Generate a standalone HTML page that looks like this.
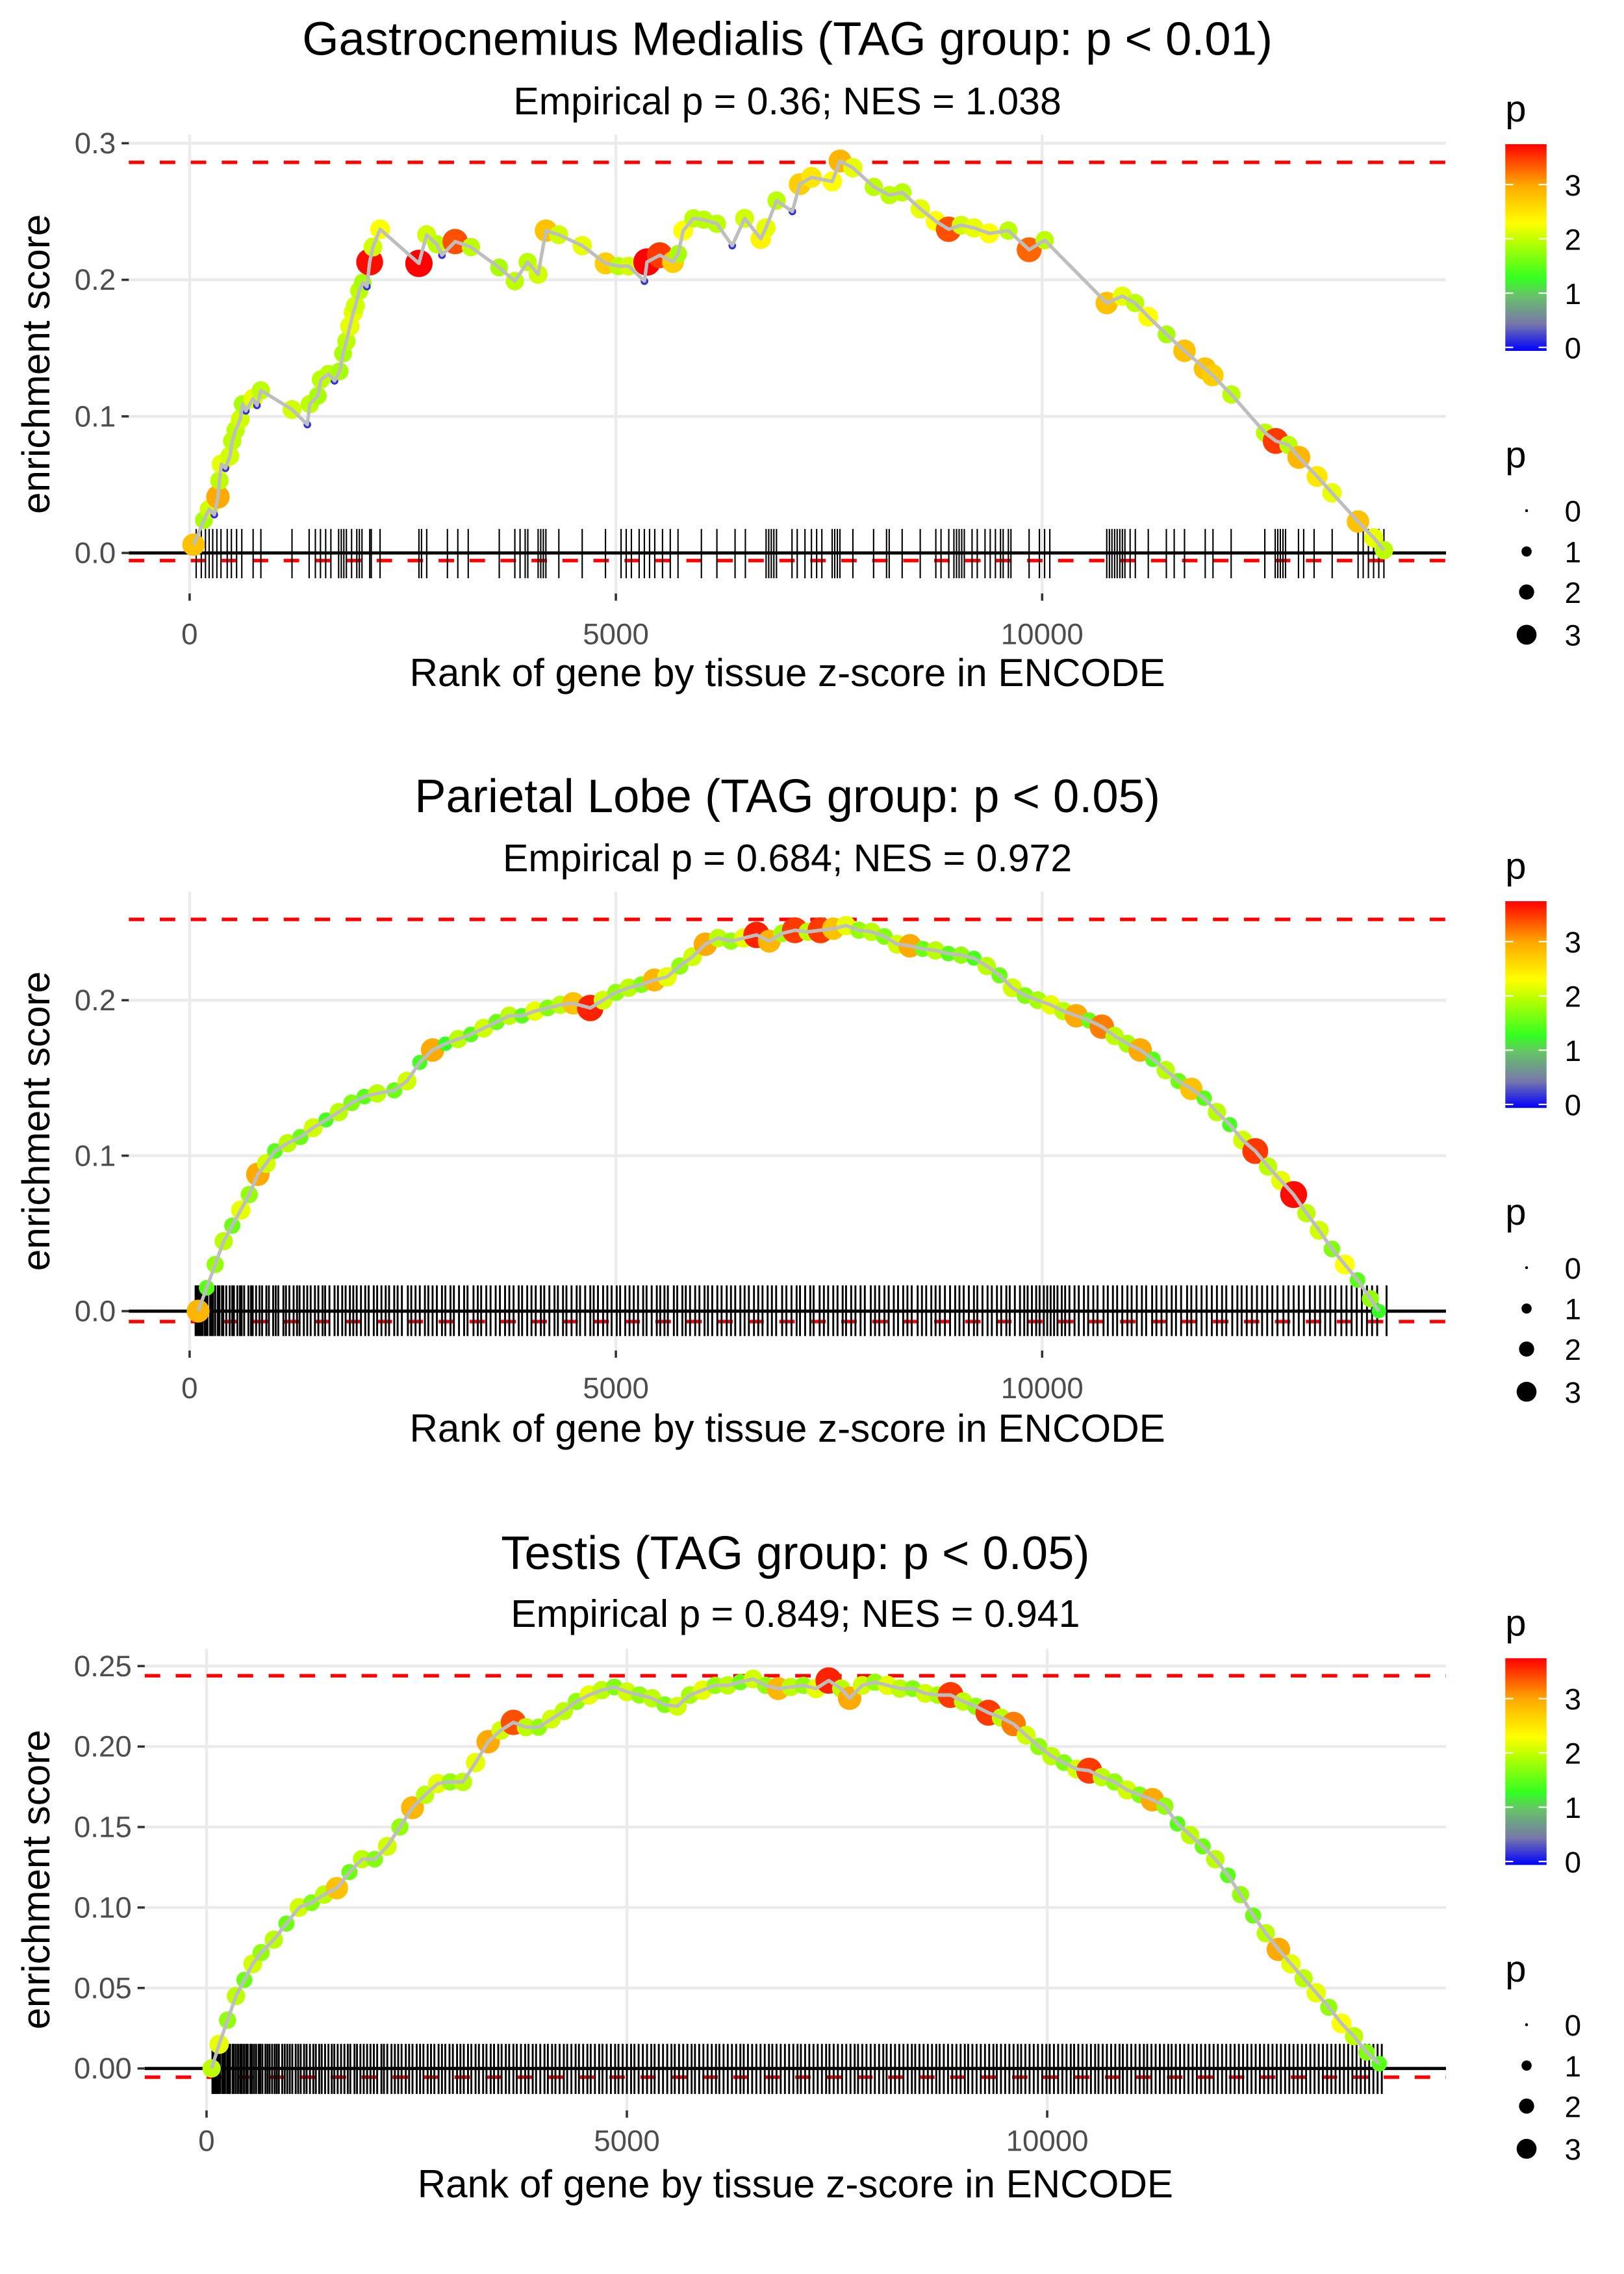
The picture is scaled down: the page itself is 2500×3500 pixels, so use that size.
<!DOCTYPE html>
<html><head><meta charset="utf-8"><style>
html,body{margin:0;padding:0;background:#fff;}
svg{display:block;font-family:"Liberation Sans",sans-serif;}
</style></head><body>
<svg id="chart" xmlns="http://www.w3.org/2000/svg" width="2500" height="3500" viewBox="0 0 1122 1571" preserveAspectRatio="none">
<defs>
<linearGradient id="pgrad" x1="0" y1="1" x2="0" y2="0">
<stop offset="0" stop-color="#0000ff"/><stop offset="0.13" stop-color="#7777aa"/><stop offset="0.27" stop-color="#66c466"/><stop offset="0.35" stop-color="#33ff22"/><stop offset="0.53" stop-color="#bbff00"/><stop offset="0.62" stop-color="#ffff00"/><stop offset="0.8" stop-color="#ffaa00"/><stop offset="1" stop-color="#ff0000"/>
</linearGradient>
</defs>
</svg>
<script>
// ---- Panel 1 data: Gastrocnemius Medialis ----
const rank1 = [46,168,229,290,332,350,372,420,472,500,540,594,622,660,745,790,836,1202,1381,1410,1504,1540,1630,1700,1760,1800,1840,1880,1920,1945,1990,2031,2080,2112,2150,2235,2690,2780,2900,2960,3115,3300,3630,3815,3965,4088,4180,4330,4605,4880,5030,5150,5335,5365,5515,5670,5730,5790,5910,6030,6185,6365,6510,6700,6760,6885,7070,7157,7294,7538,7630,7780,8026,8210,8360,8571,8750,8903,9050,9200,9380,9604,9848,10030,10758,10940,11090,11244,11460,11670,11910,12000,12220,12615,12740,12890,13011,13225,13400,13705,13890,14010];
const es1 = [.006,.024,.032,.028,.041,.053,.065,.062,.071,.082,.090,.098,.109,.104,.113,.108,.119,.105,.094,.109,.115,.127,.131,.126,.133,.146,.155,.166,.176,.181,.192,.198,.195,.213,.224,.237,.212,.233,.226,.218,.228,.224,.209,.199,.213,.204,.236,.233,.225,.212,.21,.21,.199,.213,.218,.213,.219,.236,.245,.244,.241,.225,.245,.23,.238,.258,.25,.27,.275,.272,.287,.282,.268,.262,.264,.252,.243,.237,.240,.238,.234,.236,.222,.229,.183,.188,.183,.173,.16,.148,.135,.13,.116,.088,.082,.079,.07,.056,.044,.023,.011,.002];
const p1 = [2.8,1.9,2.1,0.2,3.0,2.0,2.2,0.2,2.1,2.0,2.0,2.1,1.9,0.2,2.2,0.2,2.0,2.1,0.2,2.0,1.9,2.0,2.0,0.2,1.9,1.9,2.0,2.2,2.2,2.1,2.0,1.9,0.2,3.7,2.1,2.3,3.8,2.1,2.0,0.2,3.4,2.0,1.9,2.0,2.0,2.1,2.8,2.1,2.2,2.7,2.0,2.1,0.2,3.8,3.5,2.7,1.9,2.3,2.0,2.0,2.0,0.2,2.1,2.4,2.2,2.0,0.2,2.7,2.5,2.3,2.9,2.2,2.0,2.0,2.0,2.2,2.3,3.4,2.1,2.2,2.3,2.0,3.3,2.0,2.8,2.2,2.0,2.3,1.9,2.8,2.8,2.7,2.0,2.0,3.5,2.0,2.9,2.5,2.2,2.8,2.2,2.0];
const rug1 = [77,137,186,229,271,320,368,441,490,551,612,745,836,1201,1402,1475,1535,1596,1657,1748,1779,1809,1839,1900,1961,1991,2022,2113,2131,2234,2690,2720,2781,3024,3146,3268,3632,3815,3876,3936,3967,4088,4119,4149,4179,4331,4605,4878,5061,5121,5182,5273,5334,5395,5456,5547,5638,5729,6003,6185,6398,6519,6762,6793,6823,6853,6884,7066,7127,7218,7294,7355,7416,7537,7567,7598,7628,7780,8023,8175,8206,8358,8570,8753,8814,8905,8965,8996,9026,9057,9087,9178,9239,9330,9391,9452,9512,9543,9604,9634,9847,9968,10029,10090,10758,10789,10819,10850,10880,10911,10941,10971,11032,11093,11245,11457,11549,11670,11913,12004,12217,12612,12734,12764,12794,12825,12855,13007,13068,13190,13402,13706,13766,13827,13888,13949,14009];

// ---- Panel 2 data: Parietal Lobe ----
const rank2 = [100,200,300,400,500,600,700,800,900,1000,1150,1300,1450,1600,1750,1900,2050,2200,2400,2550,2700,2850,3000,3150,3300,3450,3600,3750,3900,4050,4200,4350,4500,4700,4850,5000,5150,5300,5450,5600,5750,5900,6050,6200,6350,6500,6650,6800,6950,7100,7250,7400,7550,7700,7850,8000,8150,8300,8450,8600,8750,8900,9050,9200,9350,9500,9650,9800,9950,10100,10250,10400,10550,10700,10850,11000,11150,11300,11450,11600,11750,11900,12050,12200,12350,12500,12650,12800,12950,13100,13250,13400,13550,13700,13850,13950];
const es2 = [.0,.015,.03,.045,.055,.065,.075,.088,.095,.103,.108,.112,.118,.123,.128,.134,.138,.14,.142,.148,.16,.168,.172,.175,.178,.182,.186,.19,.19,.193,.195,.197,.198,.195,.2,.205,.208,.21,.213,.215,.222,.228,.236,.24,.238,.24,.242,.238,.243,.245,.244,.245,.246,.248,.245,.244,.241,.236,.235,.233,.232,.23,.229,.227,.222,.216,.208,.203,.2,.197,.193,.19,.187,.183,.177,.172,.168,.162,.155,.148,.143,.137,.128,.12,.11,.103,.093,.084,.075,.063,.052,.04,.03,.02,.008,.0];
const p2 = [2.9,1.5,1.8,2.0,1.6,2.2,1.8,3.0,2.1,1.5,2.0,1.6,2.1,1.4,2.0,1.7,1.5,2.0,1.6,2.1,1.4,3.0,1.3,2.0,1.5,2.1,1.6,2.0,1.5,2.2,1.7,2.0,2.8,3.6,2.1,1.8,2.0,1.7,2.9,2.2,1.8,2.1,3.0,2.0,1.8,2.2,3.6,2.9,1.9,3.5,2.0,3.5,2.8,2.2,1.8,2.0,1.7,2.1,3.0,1.6,2.0,1.5,1.8,1.4,2.0,1.6,2.1,1.7,1.9,2.2,2.0,3.0,1.6,3.2,2.0,1.9,3.0,1.5,2.0,1.6,2.8,1.5,2.0,1.4,2.1,3.5,2.0,2.2,3.7,2.0,2.1,1.7,2.3,1.5,1.8,1.3];
const rug2 = [70,90,110,130,150,175,190,210,240,260,275,300,330,350,380,395,430,470,500,520,560,590,610,640,690,720,740,780,820,850,900,930,980,1010,1040,1100,1130,1170,1220,1260,1290,1340,1380,1420,1470,1510,1560,1590,1640,1700,1740,1790,1830,1880,1920,1960,2010,2060,2100,2160,2200,2250,2300,2340,2400,2440,2490,2560,2600,2650,2700,2760,2800,2850,2900,2960,3000,3060,3100,3160,3220,3260,3330,3380,3420,3480,3530,3590,3640,3700,3750,3800,3860,3900,3960,4010,4060,4120,4160,4220,4280,4320,4380,4420,4480,4540,4580,4640,4700,4740,4790,4850,4900,4950,5010,5050,5110,5160,5210,5260,5320,5360,5420,5480,5520,5570,5610,5680,5720,5780,5820,5870,5930,5980,6040,6080,6130,6190,6240,6300,6350,6400,6460,6510,6560,6620,6670,6720,6780,6830,6880,6950,7000,7060,7120,7160,7220,7280,7320,7390,7440,7490,7550,7600,7660,7700,7760,7810,7870,7920,7990,8040,8090,8150,8200,8260,8310,8370,8420,8470,8540,8590,8640,8700,8750,8800,8860,8920,8980,9030,9080,9140,9200,9240,9300,9360,9410,9470,9520,9580,9620,9680,9740,9790,9830,9880,9930,9970,10020,10060,10100,10140,10180,10230,10270,10320,10380,10430,10490,10540,10600,10650,10720,10770,10830,10880,10940,11000,11050,11110,11170,11220,11290,11340,11400,11460,11520,11570,11630,11700,11750,11810,11870,11930,11990,12050,12110,12160,12230,12290,12340,12400,12460,12520,12580,12640,12700,12760,12830,12890,12950,13010,13070,13140,13200,13260,13320,13380,13440,13510,13570,13630,13690,13750,13810,13870,13930,14040];

// ---- Panel 3 data: Testis ----
const rank3 = [60,150,250,350,450,550,650,800,950,1100,1250,1400,1550,1700,1850,2000,2150,2300,2450,2600,2750,2900,3050,3200,3350,3500,3650,3800,3950,4100,4250,4400,4550,4700,4850,5000,5150,5300,5450,5600,5750,5900,6050,6200,6350,6500,6650,6800,6950,7100,7250,7400,7550,7650,7800,7950,8100,8250,8400,8550,8700,8850,9000,9150,9300,9450,9600,9750,9900,10050,10200,10350,10500,10650,10800,10950,11100,11250,11400,11550,11700,11850,12000,12150,12300,12450,12600,12750,12900,13050,13200,13350,13500,13650,13800,13950];
const es3 = [.0,.015,.03,.045,.055,.065,.072,.08,.09,.1,.103,.108,.112,.122,.13,.13,.138,.15,.162,.17,.177,.178,.178,.19,.203,.21,.215,.212,.212,.217,.222,.228,.232,.235,.237,.234,.232,.23,.226,.225,.232,.235,.238,.238,.24,.242,.238,.236,.237,.238,.236,.241,.236,.23,.238,.24,.238,.236,.236,.233,.232,.232,.228,.225,.221,.218,.214,.207,.2,.194,.19,.186,.185,.181,.178,.173,.17,.167,.163,.152,.145,.138,.13,.12,.108,.095,.084,.074,.065,.056,.047,.038,.028,.02,.01,.003];
const p3 = [2.0,2.2,1.8,2.0,1.6,2.1,1.8,2.0,1.6,2.1,1.7,2.0,2.8,1.6,2.0,1.7,2.1,1.8,2.9,2.0,2.2,1.8,2.0,2.2,3.0,2.1,3.4,2.0,1.8,2.1,2.0,1.8,2.2,2.0,1.7,2.1,1.8,2.0,1.7,2.1,1.9,2.2,1.8,2.0,1.6,2.1,1.8,2.9,2.0,1.8,2.2,3.6,2.0,3.0,2.1,1.8,2.2,2.0,1.7,2.1,1.9,3.5,2.0,1.8,3.5,2.0,3.2,2.1,1.8,2.0,1.7,2.1,3.5,2.0,1.8,2.1,1.7,3.0,1.8,1.5,2.0,1.6,2.0,1.5,1.8,1.6,2.0,3.0,2.2,2.0,2.2,1.8,2.3,2.0,1.7,1.5];
const rug3 = [70,85,105,125,140,160,185,200,220,245,265,280,310,325,350,375,400,420,445,470,490,520,540,565,590,620,640,665,700,725,750,780,810,835,860,900,930,960,990,1020,1060,1090,1120,1160,1190,1230,1270,1300,1340,1370,1410,1450,1490,1520,1560,1600,1640,1680,1710,1760,1790,1830,1870,1910,1950,1990,2030,2080,2110,2150,2200,2240,2280,2320,2370,2410,2450,2500,2540,2580,2630,2670,2710,2760,2800,2840,2890,2930,2980,3020,3060,3110,3150,3200,3240,3290,3330,3380,3420,3470,3510,3560,3600,3650,3690,3740,3790,3830,3880,3920,3970,4020,4060,4110,4150,4200,4250,4290,4340,4390,4430,4480,4530,4570,4620,4670,4710,4760,4810,4860,4900,4950,5000,5050,5090,5140,5190,5240,5290,5330,5380,5430,5480,5530,5570,5620,5670,5720,5770,5810,5860,5910,5960,6010,6060,6100,6150,6200,6250,6300,6350,6390,6440,6490,6540,6590,6640,6690,6730,6780,6830,6880,6930,6980,7030,7070,7120,7170,7220,7270,7320,7370,7410,7460,7510,7560,7610,7660,7710,7750,7800,7850,7900,7950,8000,8050,8090,8140,8190,8240,8290,8340,8390,8430,8480,8530,8580,8630,8680,8720,8770,8820,8870,8920,8970,9020,9060,9110,9160,9210,9260,9310,9360,9400,9450,9500,9550,9600,9650,9690,9740,9790,9840,9890,9940,9990,10030,10080,10130,10180,10230,10280,10320,10370,10420,10470,10520,10570,10610,10660,10710,10760,10810,10860,10900,10950,11000,11050,11100,11150,11190,11240,11290,11340,11390,11440,11480,11530,11580,11630,11680,11730,11780,11830,11880,11930,11980,12030,12080,12130,12180,12230,12280,12330,12380,12430,12480,12530,12580,12630,12680,12730,12780,12830,12880,12930,12980,13030,13080,13130,13180,13230,13280,13330,13380,13430,13480,13530,13580,13630,13680,13730,13780,13830,13880,13930,13980];

const NS = "http://www.w3.org/2000/svg";
const svg = document.getElementById('chart');
function mk(tag, attrs, parent){ const e=document.createElementNS(NS,tag); for(const k in attrs) e.setAttribute(k,attrs[k]); (parent||svg).appendChild(e); return e; }

const stops=[[0,[0,0,255]],[0.5,[119,119,170]],[1,[102,196,102]],[1.3,[51,255,34]],[2,[187,255,0]],[2.3,[255,255,0]],[3,[255,170,0]],[3.75,[255,0,0]]];
function pColor(p){
  if(p<=0) return 'rgb(0,0,255)';
  for(let i=1;i<stops.length;i++){ if(p<=stops[i][0]){ const a=stops[i-1],b=stops[i]; const t=(p-a[0])/(b[0]-a[0]); const c=a[1].map((v,j)=>Math.round(v+(b[1][j]-v)*t)); return 'rgb('+c.join(',')+')'; } }
  return 'rgb(255,0,0)';
}
function legendRadius(p){ return 1.5 + 2.0*Math.pow(Math.max(p,0),0.9); }
function plotRadius(p){ return 2.0 + 2.4*Math.pow(Math.max(p,0),0.85); }

const panels = [
 {name:'gastrocnemius', title:'Gastrocnemius Medialis (TAG group: p < 0.01)', sub:'Empirical p = 0.36; NES = 1.038',
  ranks:rank1, es:es1, p:p1, rug:rug1, rugW:0.95, left:89, right:999, top:93, bottom:410, x0:131, kx:0.0589, y0:382, ky:943.5,
  yt:[0,0.1,0.2,0.3], ytl:['0.0','0.1','0.2','0.3'], dTop:0.286, dBot:-0.0056, rugT:365.4, rugB:399.5,
  titleY:38, subY:79, xlabY:445, xtitY:474, off:0},
 {name:'parietal-lobe', title:'Parietal Lobe (TAG group: p < 0.05)', sub:'Empirical p = 0.684; NES = 0.972',
  ranks:rank2, es:es2, p:p2, rug:rug2, rugW:1.3, left:89, right:999, top:616, bottom:933, x0:131, kx:0.0589, y0:905.8, ky:1074,
  yt:[0,0.1,0.2], ytl:['0.0','0.1','0.2'], dTop:0.252, dBot:-0.0067, rugT:888, rugB:923,
  titleY:561, subY:602, xlabY:966, xtitY:996, off:523},
 {name:'testis', title:'Testis (TAG group: p < 0.05)', sub:'Empirical p = 0.849; NES = 0.941',
  ranks:rank3, es:es3, p:p3, rug:rug3, rugW:1.3, left:100, right:999, top:1139, bottom:1458, x0:142.7, kx:0.05808, y0:1429, ky:1112,
  yt:[0,0.05,0.1,0.15,0.2,0.25], ytl:['0.00','0.05','0.10','0.15','0.20','0.25'], dTop:0.244, dBot:-0.0054, rugT:1412, rugB:1446.6,
  titleY:1084, subY:1124, xlabY:1486, xtitY:1518, off:1046}
];
const xticks=[0,5000,10000];
const xtickLabels=['0','5000','10000'];

panels.forEach(P=>{
  const g=mk('g',{});
  
  
  const X=r=>P.x0+P.kx*r, Y=v=>P.y0-P.ky*v;
  const cx=(P.left+P.right)/2;
  let t=mk('text',{x:cx,y:P.titleY,'text-anchor':'middle','font-size':32.5,fill:'#000'},g); t.textContent=P.title;
  
  
  t=mk('text',{x:cx,y:P.subY,'text-anchor':'middle','font-size':26.5,fill:'#000'},g); t.textContent=P.sub;
  
  
  P.yt.forEach((v,i)=>{
    const l=mk('line',{x1:P.left,x2:P.right,y1:Y(v),y2:Y(v),stroke:'#ebebeb','stroke-width':2},g);
    
    
    const tk=mk('line',{x1:P.left-5,x2:P.left,y1:Y(v),y2:Y(v),stroke:'#333','stroke-width':1.6},g);
    
    
    const tl=mk('text',{x:P.left-9,y:Y(v)+7,'text-anchor':'end','font-size':20.5,fill:'#4d4d4d'},g); tl.textContent=P.ytl[i];
    
    
  });
  xticks.forEach((r,i)=>{
    const l=mk('line',{x1:X(r),x2:X(r),y1:P.top,y2:P.bottom,stroke:'#ebebeb','stroke-width':2},g);
    
    
    const tk=mk('line',{x1:X(r),x2:X(r),y1:P.bottom,y2:P.bottom+5,stroke:'#333','stroke-width':1.6},g);
    
    
    const tl=mk('text',{x:X(r),y:P.xlabY,'text-anchor':'middle','font-size':20.5,fill:'#4d4d4d'},g); tl.textContent=xtickLabels[i];
    
    
  });
  t=mk('text',{x:cx,y:P.xtitY,'text-anchor':'middle','font-size':27,fill:'#000'},g); t.textContent='Rank of gene by tissue z-score in ENCODE';
  
  
  const ymid=(P.top+P.bottom)/2;
  t=mk('text',{x:0,y:0,'text-anchor':'middle','font-size':27,fill:'#000',transform:'translate(34,'+ymid+') rotate(-90)'},g); t.textContent='enrichment score';
  
  
  [P.dTop,P.dBot].forEach(v=>{
    const l=mk('line',{x1:P.left,x2:P.right,y1:Y(v),y2:Y(v),stroke:'#ff0000','stroke-width':2.4,'stroke-dasharray':'10.7 10.7'},g);
    
    
  });
  const z=mk('line',{x1:P.left,x2:P.right,y1:Y(0),y2:Y(0),stroke:'#000','stroke-width':2.2},g);
  
  
  const rg=mk('g',{},g);
  
  
  P.rug.forEach(r=>{
    const l=mk('line',{x1:X(r),x2:X(r),y1:P.rugT,y2:P.rugB,stroke:'#000','stroke-width':P.rugW},rg);
    
    
  });
  const pg=mk('g',{},g);
  
  
  P.ranks.forEach((r,i)=>{
    const c=mk('circle',{cx:X(r),cy:Y(P.es[i]),r:plotRadius(P.p[i]),fill:pColor(P.p[i])},pg);
    
    
  });
  const pts=P.ranks.map((r,i)=>X(r).toFixed(2)+','+Y(P.es[i]).toFixed(2)).join(' ');
  const pl=mk('polyline',{points:pts,fill:'none',stroke:'#bebebe','stroke-width':2.4,'stroke-linejoin':'round'},g);
  
  
  const o=P.off;
  const lg=mk('g',{},g);
  
  
  t=mk('text',{x:1040,y:84+o,'font-size':26,fill:'#000'},lg); t.textContent='p';
  
  
  const bar=mk('rect',{x:1040,y:99.6+o,width:28.5,height:142.8,fill:'url(#pgrad)'},lg);
  
  
  [0,1,2,3].forEach(v=>{
    const yy=240+o-37.5*v;
    mk('line',{x1:1040,x2:1045.5,y1:yy,y2:yy,stroke:'#fff','stroke-width':1},lg);
    mk('line',{x1:1063,x2:1068.5,y1:yy,y2:yy,stroke:'#fff','stroke-width':1},lg);
    const tl=mk('text',{x:1081,y:yy+7.5,'font-size':20.5,fill:'#000'},lg); tl.textContent=String(v);
    
    
  });
  const sg=mk('g',{},g);
  
  
  t=mk('text',{x:1040,y:323+o,'font-size':26,fill:'#000'},sg); t.textContent='p';
  
  
  [[0,352.8],[1,381],[2,409],[3,438.5]].forEach(([v,yy])=>{
    const c=mk('circle',{cx:1054.7,cy:yy+o,r:legendRadius(v)-(v==0?0.5:0),fill:'#000'},sg);
    
    
    const tl=mk('text',{x:1081,y:yy+o+7.5,'font-size':20.5,fill:'#000'},sg); tl.textContent=String(v);
    
    
  });
});
</script>
</body></html>
